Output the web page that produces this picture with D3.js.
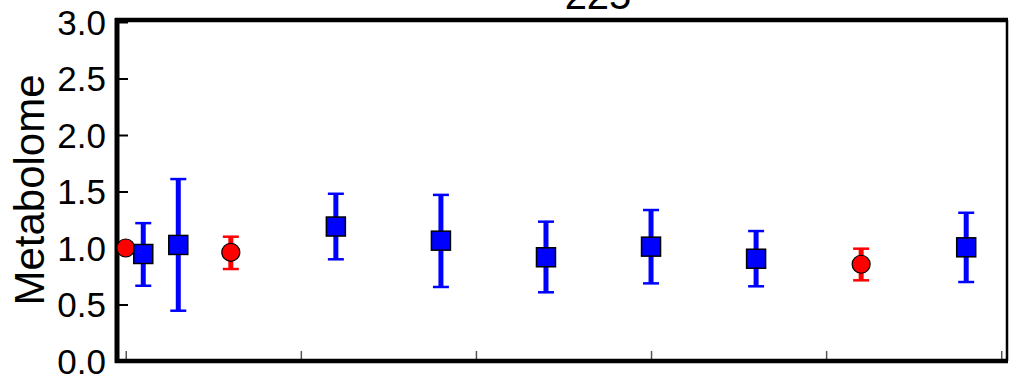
<!DOCTYPE html>
<html><head><meta charset="utf-8">
<script src="https://cdn.jsdelivr.net/npm/d3@7"></script>
<style>html,body{margin:0;padding:0;background:#fff;}svg{display:block;}</style>
</head><body>
<script>
const title = "225";
const yLabel = "Metabolome";
const yTicks = [0, 0.5, 1.0, 1.5, 2.0, 2.5, 3.0];
const xTicks = [0, 1, 2, 3, 4, 5];
// group: "r" = red circle, "b" = blue square
const xs     = [0,    0.1,  0.3,  0.6,   1.2,  1.8,   2.4,   3.0,   3.6,   4.2,   4.8];
const groups = ["r",  "b",  "b",  "r",   "b",  "b",   "b",   "b",   "b",   "r",   "b"];
const means  = [1.0,  0.947,1.027,0.962, 1.19, 1.065, 0.918, 1.012, 0.905, 0.856, 1.006];
const upper  = [1.0,  1.22, 1.61, 1.10,  1.48, 1.47,  1.233, 1.336, 1.15,  0.994, 1.312];
const lower  = [1.0,  0.666,0.445,0.814, 0.90, 0.655, 0.608, 0.687, 0.661, 0.714, 0.699];

const W = 1010, H = 378;
const svg = d3.select("body").append("svg").attr("width", W).attr("height", H);
const x = d3.scaleLinear().domain([-0.05, 5.033]).range([117, 1007]);
const y = d3.scaleLinear().domain([0, 3]).range([361, 22]);
const font = "'Liberation Sans', Arial, Helvetica, sans-serif";

// title
svg.append("text").attr("x", 598).attr("y", 9).attr("text-anchor", "middle")
  .attr("font-family", font).attr("font-size", 40).text(title);

// y axis label
svg.append("text").attr("transform", "translate(44,190) rotate(-90)")
  .attr("text-anchor", "middle").attr("font-family", font).attr("font-size", 42).text(yLabel);

// y axis ticks (inward)
const yAxis = d3.axisRight(y).tickValues(yTicks).tickSize(11).tickFormat("");
const yg = svg.append("g").attr("transform", "translate(117,0)").call(yAxis);
yg.select(".domain").remove();
yg.selectAll("line").attr("stroke", "#000").attr("stroke-width", 2);
svg.selectAll(".ylab").data(yTicks).join("text").attr("class", "ylab")
  .attr("x", 106).attr("y", d => y(d)).attr("dy", "0.36em").attr("text-anchor", "end")
  .attr("font-family", font).attr("font-size", 35).text(d => d3.format(".1f")(d));

// x axis ticks (inward, thin gray)
const xAxis = d3.axisTop(x).tickValues(xTicks).tickSize(8).tickFormat("");
const xg = svg.append("g").attr("transform", "translate(0,359)").call(xAxis);
xg.select(".domain").remove();
xg.selectAll("line").attr("stroke", "#555").attr("stroke-width", 1.5);

// frame
svg.append("line").attr("x1", 1007).attr("x2", 1007).attr("y1", 20).attr("y2", 361).attr("stroke", "#000").attr("stroke-width", 2.5);
svg.append("line").attr("x1", 115).attr("x2", 1008).attr("y1", 20).attr("y2", 20).attr("stroke", "#000").attr("stroke-width", 4.5);
svg.append("line").attr("x1", 115).attr("x2", 1008).attr("y1", 361).attr("y2", 361).attr("stroke", "#000").attr("stroke-width", 4.5);
svg.append("line").attr("x1", 117).attr("x2", 117).attr("y1", 18).attr("y2", 363).attr("stroke", "#000").attr("stroke-width", 5);

const color = g => g === "r" ? "#ff0000" : "#0000ff";
const idx = d3.range(xs.length);
const eb = svg.append("g");
idx.forEach(i => {
  if (upper[i] - lower[i] < 0.01) return;
  const cx = x(xs[i]);
  eb.append("line").attr("x1", cx).attr("x2", cx).attr("y1", y(upper[i])).attr("y2", y(lower[i]))
    .attr("stroke", color(groups[i])).attr("stroke-width", 5);
  [upper[i], lower[i]].forEach(v => {
    eb.append("line").attr("x1", cx - 8).attr("x2", cx + 8).attr("y1", y(v)).attr("y2", y(v))
      .attr("stroke", color(groups[i])).attr("stroke-width", 2.5);
  });
});
const mk = svg.append("g");
idx.forEach(i => {
  const cx = x(xs[i]), cy = y(means[i]);
  if (groups[i] === "r") {
    mk.append("circle").attr("cx", cx).attr("cy", cy).attr("r", 9)
      .attr("fill", "#ff0000").attr("stroke", "#000").attr("stroke-width", 1.2);
  } else {
    mk.append("rect").attr("x", cx - 9.5).attr("y", cy - 9.5).attr("width", 19).attr("height", 19)
      .attr("fill", "#0000ff").attr("stroke", "#000").attr("stroke-width", 1.5);
  }
});
</script>
</body></html>
